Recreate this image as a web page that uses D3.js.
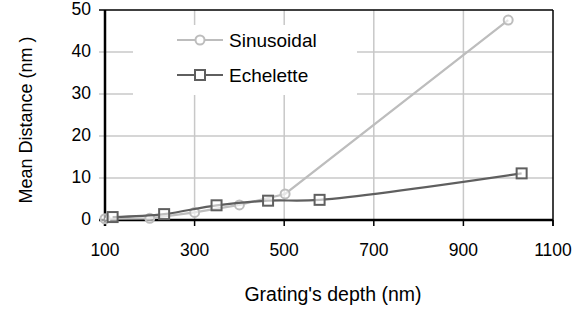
<!DOCTYPE html>
<html>
<head>
<script type="text/javascript" src="https://cdn.jsdelivr.net/npm/d3@7"></script>
<style>
  body { margin: 0; background: #fff; }
  svg { font-family: "Liberation Sans", Arial, sans-serif; }
</style>
</head>
<body>
<svg id="chart" width="575" height="310"></svg>
<script type="text/javascript">
var xTicks = [100, 300, 500, 700, 900, 1100];
var yTicks = [0, 10, 20, 30, 40, 50];
var seriesNames = ["Sinusoidal", "Echelette"];
var sinX = [100, 200, 300, 400, 502, 1000];
var sinY = [0.3, 0.4, 1.8, 3.6, 6.2, 47.6];
var echX = [117, 232, 349, 464, 579, 1030];
var echY = [0.7, 1.4, 3.5, 4.6, 4.8, 11.1];

var svg = d3.select("#chart");
var plotL = 105, plotR = 553, plotT = 10, plotB = 220;

var x = d3.scaleLinear().domain([100, 1100]).range([plotL, plotR]);
var y = d3.scaleLinear().domain([0, 50]).range([plotB, plotT]);

var lightGray = "#bdbdbd", darkGray = "#5f5f5f", gridGray = "#c8c8c8";

// grid
var grid = svg.append("g");
grid.selectAll("line.h").data(yTicks.slice(1, 5)).enter().append("line")
  .attr("x1", plotL - 6).attr("x2", plotR)
  .attr("y1", function(d){return y(d);}).attr("y2", function(d){return y(d);})
  .attr("stroke", gridGray).attr("stroke-width", 1.5);
grid.selectAll("line.v").data(xTicks.slice(1, 5)).enter().append("line")
  .attr("x1", function(d){return x(d);}).attr("x2", function(d){return x(d);})
  .attr("y1", plotT).attr("y2", plotB)
  .attr("stroke", gridGray).attr("stroke-width", 1.5);

// legend box covers grid
svg.append("rect").attr("x", 133).attr("y", 25).attr("width", 224).attr("height", 70).attr("fill", "#fff");

// frame
svg.append("line").attr("x1", plotL - 6).attr("x2", plotR).attr("y1", plotT).attr("y2", plotT).attr("stroke", "#000").attr("stroke-width", 1.5);
svg.append("line").attr("x1", plotR).attr("x2", plotR).attr("y1", plotT).attr("y2", plotB + 6).attr("stroke", "#000").attr("stroke-width", 1.5);
svg.selectAll("line.bt").data(xTicks).enter().append("line")
  .attr("x1", function(d){return x(d);}).attr("x2", function(d){return x(d);})
  .attr("y1", plotB).attr("y2", plotB + 6).attr("stroke", "#000").attr("stroke-width", 1.5);
svg.append("line").attr("x1", plotL).attr("x2", plotL).attr("y1", plotT).attr("y2", plotB + 6).attr("stroke", "#000").attr("stroke-width", 2.5);
svg.append("line").attr("x1", plotL - 6).attr("x2", plotR).attr("y1", plotB).attr("y2", plotB).attr("stroke", "#000").attr("stroke-width", 2.5);

// tick labels
svg.selectAll("text.yl").data(yTicks).enter().append("text")
  .attr("x", 91).attr("y", function(d){return y(d) + 5;})
  .attr("text-anchor", "end").attr("font-size", 17.5).text(function(d){return d;});
svg.selectAll("text.xl").data(xTicks).enter().append("text")
  .attr("x", function(d){return x(d);}).attr("y", 256)
  .attr("text-anchor", "middle").attr("font-size", 17.5).text(function(d){return d;});

// axis titles
svg.append("text").attr("transform", "translate(32," + 120 + ") rotate(-90)")
  .attr("text-anchor", "middle").attr("font-size", 18).text("Mean Distance (nm )");
svg.append("text").attr("x", 333).attr("y", 301)
  .attr("text-anchor", "middle").attr("font-size", 19.5).text("Grating's depth (nm)");

// series
var sinData = sinX.map(function(d, i){return {x: d, y: sinY[i]};});
var echData = echX.map(function(d, i){return {x: d, y: echY[i]};});

var lineLin = d3.line().x(function(d){return x(d.x);}).y(function(d){return y(d.y);}).curve(d3.curveLinear);
var lineSmooth = d3.line().x(function(d){return x(d.x);}).y(function(d){return y(d.y);}).curve(d3.curveCatmullRom.alpha(0.5));

svg.append("path").attr("d", lineLin(sinData)).attr("fill", "none").attr("stroke", lightGray).attr("stroke-width", 2.2);
svg.selectAll("circle.s").data(sinData).enter().append("circle")
  .attr("cx", function(d){return x(d.x);}).attr("cy", function(d){return y(d.y);}).attr("r", 4.5)
  .attr("fill", "#fff").attr("fill-opacity", 0.6).attr("stroke", lightGray).attr("stroke-width", 2);

svg.append("path").attr("d", lineSmooth(echData)).attr("fill", "none").attr("stroke", darkGray).attr("stroke-width", 2.2);
svg.selectAll("rect.e").data(echData).enter().append("rect")
  .attr("x", function(d){return x(d.x) - 5;}).attr("y", function(d){return y(d.y) - 5;})
  .attr("width", 10).attr("height", 10)
  .attr("fill", "#fff").attr("fill-opacity", 0.6).attr("stroke", darkGray).attr("stroke-width", 2);

// legend
var legY = [40, 75];
var legColors = [lightGray, darkGray];
seriesNames.forEach(function(name, i){
  var g = svg.append("g");
  g.append("line").attr("x1", 177).attr("x2", 223).attr("y1", legY[i]).attr("y2", legY[i])
    .attr("stroke", legColors[i]).attr("stroke-width", 2.2);
  if (i === 0) {
    g.append("circle").attr("cx", 200).attr("cy", legY[i]).attr("r", 4.5)
      .attr("fill", "#fff").attr("stroke", legColors[i]).attr("stroke-width", 2);
  } else {
    g.append("rect").attr("x", 195).attr("y", legY[i] - 5).attr("width", 10).attr("height", 10)
      .attr("fill", "#fff").attr("stroke", legColors[i]).attr("stroke-width", 2);
  }
  g.append("text").attr("x", 229).attr("y", legY[i] + 7).attr("font-size", 19).text(name);
});
</script>
</body>
</html>
